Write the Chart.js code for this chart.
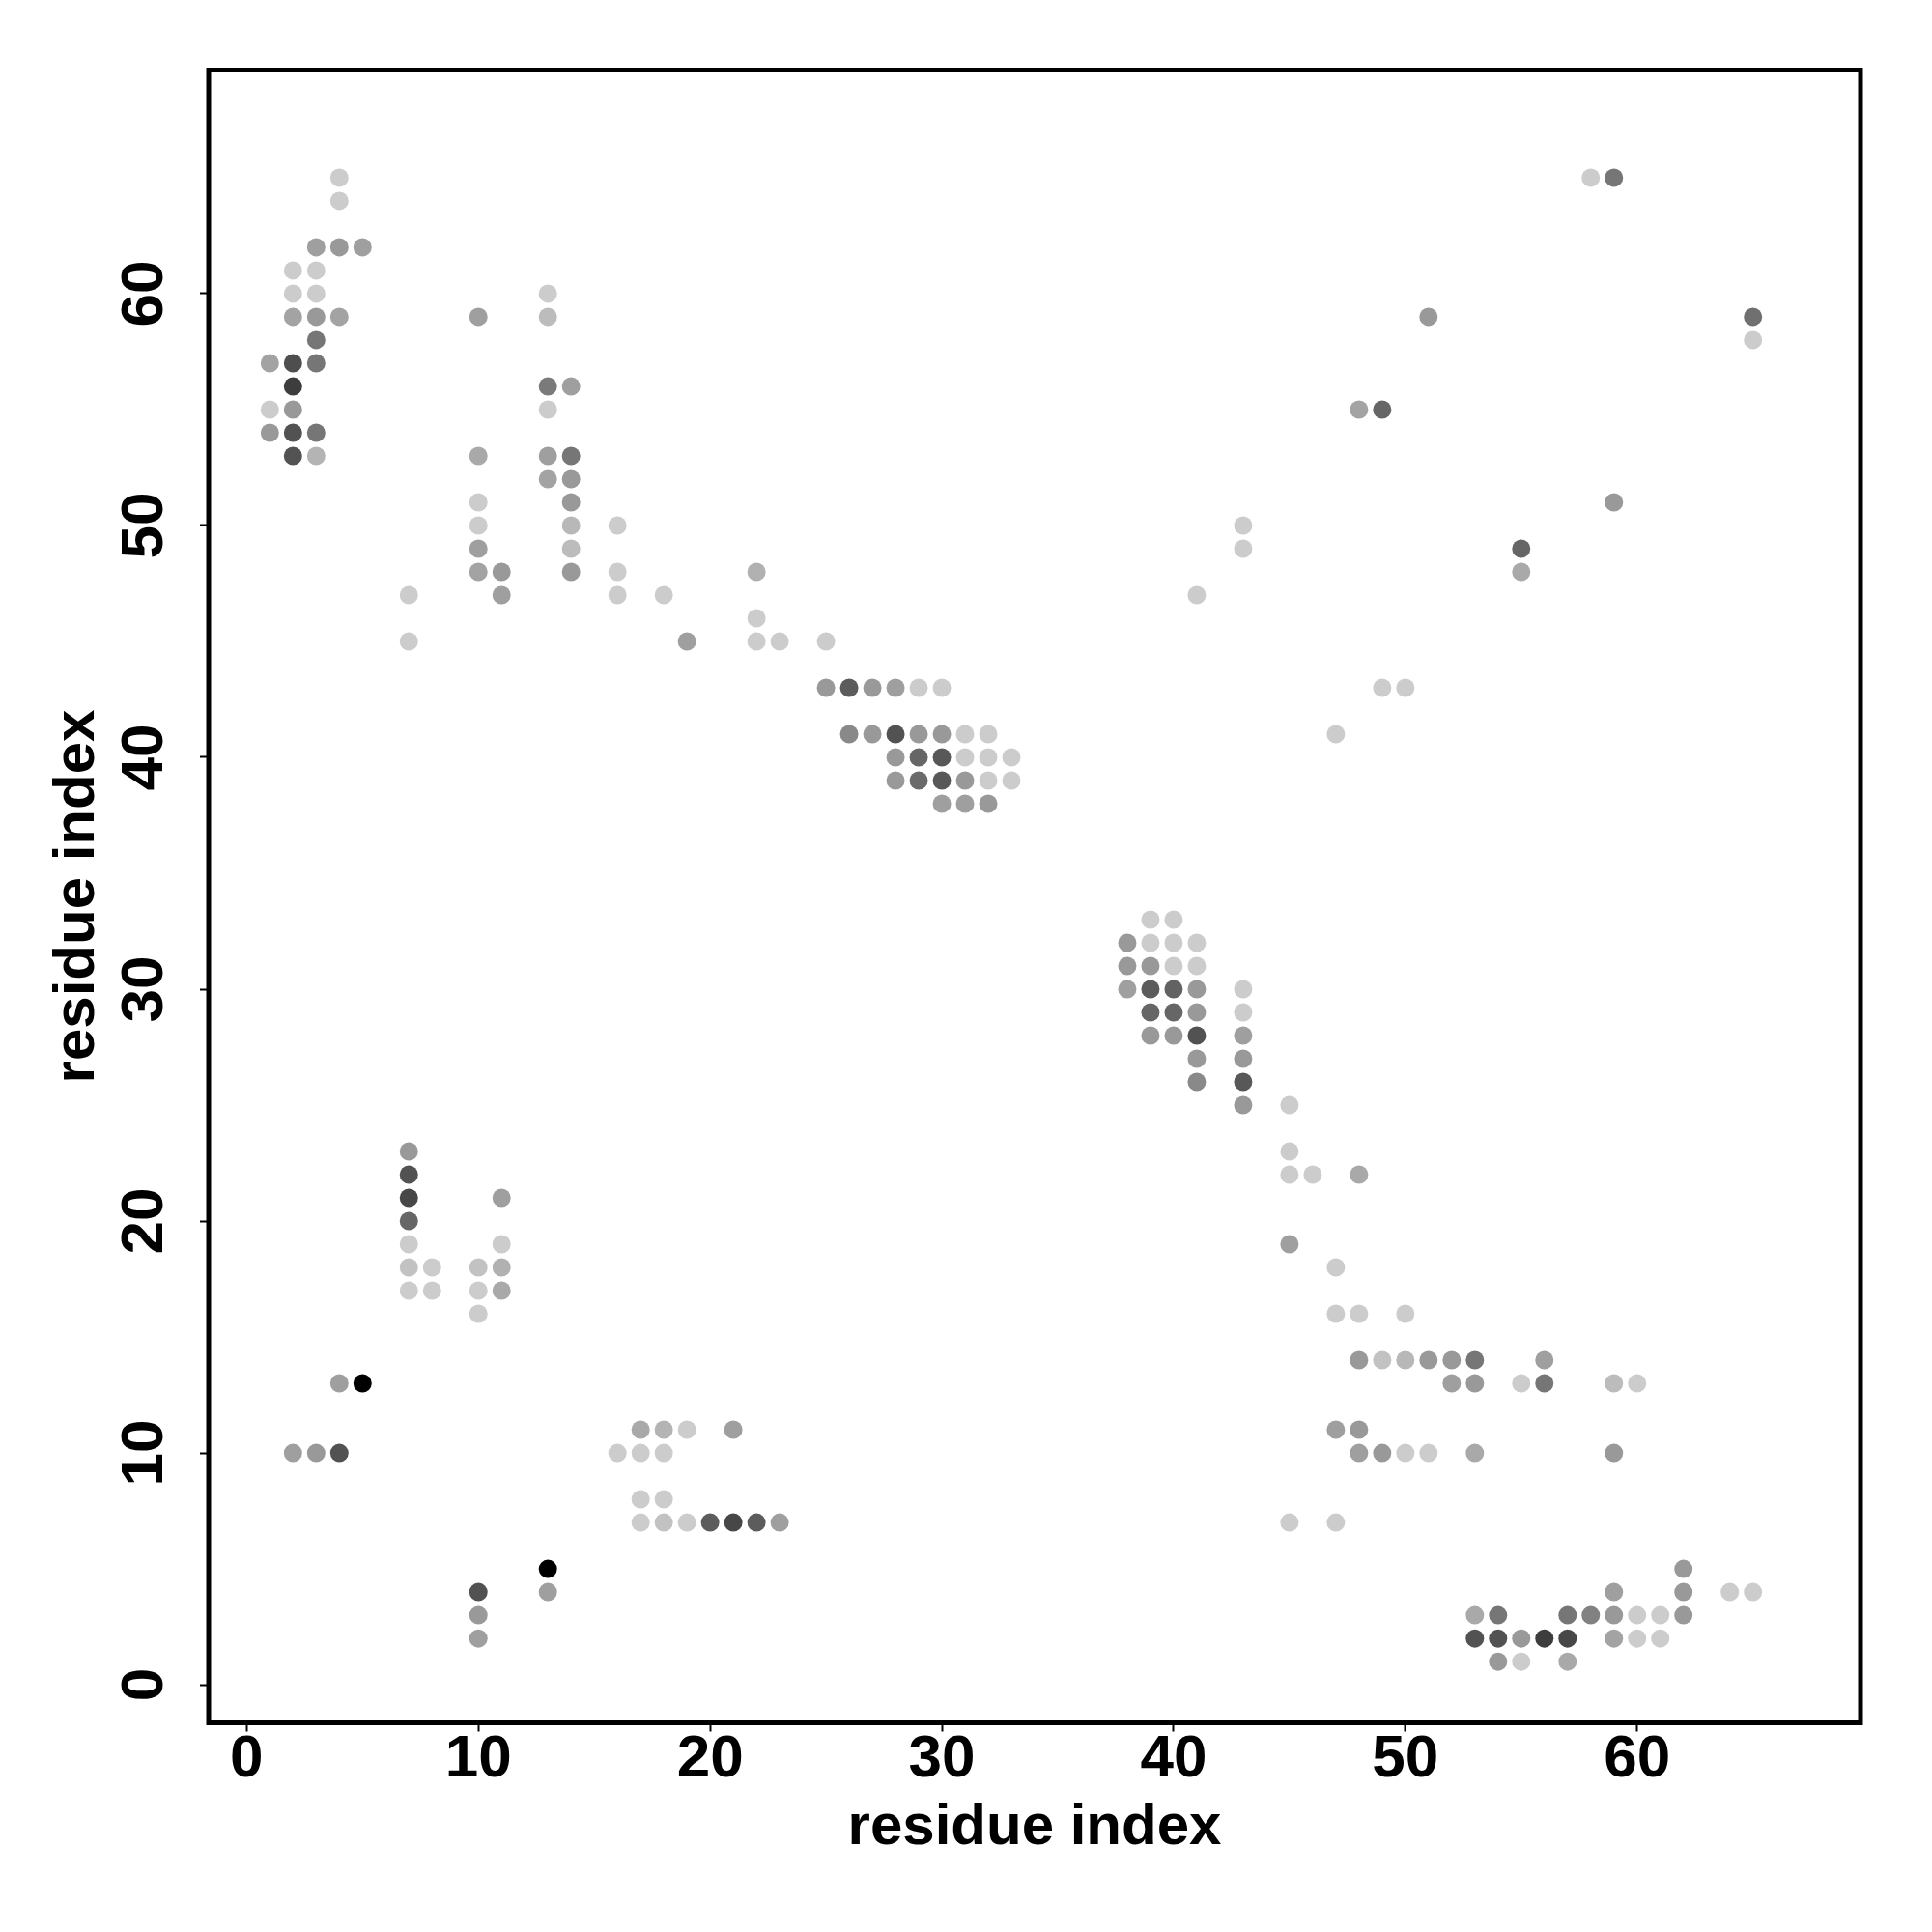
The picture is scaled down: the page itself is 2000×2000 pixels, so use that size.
<!DOCTYPE html>
<html lang="en">
<head>
    <meta charset="UTF-8">
    <title>Residue contact map</title>
    <script src="https://cdn.jsdelivr.net/npm/chart.js"></script>
    <style>
        body {
            margin: 0;
            background: #fff;
        }
        #wrap {
            width: 2000px;
            height: 2000px;
        }
    </style>
</head>
<body>
    <div id="wrap">
        <canvas id="contacts" width="2000" height="2000"></canvas>
    </div>

    <script>
        // residue i (x), residue j (y), contact strength 0 (light) .. 1 (black)
        const resI = [
            4,4,3,4,5,2,3,2,3,13,2,3,4,10,13,3,1,2,3,2,13,14,1,2,13,1,2,3,2,3,10,13,14,
            13,14,10,14,10,14,16,10,14,10,11,14,16,22,7,11,16,18,41,22,7,19,22,23,25,
            58,59,51,65,65,48,49,59,43,43,55,55,49,50,47,
            25,26,27,28,29,30,26,27,28,29,30,31,32,28,29,30,31,32,33,28,29,30,31,32,33,30,31,32,
            39,40,38,39,40,41,38,39,40,41,38,39,40,41,43,39,40,41,43,39,40,41,43,41,43,41,43,43,45,
            45,45,46,48,45,47,47,48,50,48,49,50,51,52,53,56,52,53,55,56,59,60,47,48,48,49,50,51,53,59,45,47,62,59,62,64,65,53,54,57,58,59,60,61,62,53,54,55,56,57,59,60,61,54,55,57,
            7,7,7,11,7,7,11,7,8,10,11,7,8,10,11,10,4,5,17,18,19,21,2,3,4,16,17,18,17,18,17,18,19,20,21,22,23,13,10,13,10,10
        ];
        const resJ = [
            65,64,62,62,62,61,61,60,60,60,59,59,59,59,59,58,57,57,57,56,56,56,55,55,55,54,54,54,53,53,53,53,53,
            52,52,51,51,50,50,50,49,49,48,48,48,48,48,47,47,47,47,47,46,45,45,45,45,45,
            65,65,59,59,58,55,55,51,50,49,49,48,43,43,41,
            43,43,43,43,43,43,41,41,41,41,41,41,41,40,40,40,40,40,40,39,39,39,39,39,39,38,38,38,
            33,33,32,32,32,32,31,31,31,31,30,30,30,30,30,29,29,29,29,28,28,28,28,27,27,26,26,25,25,
            23,22,22,22,19,18,16,16,16,14,14,14,14,14,14,14,13,13,13,13,13,13,11,11,10,10,10,10,10,10,7,7,5,4,4,4,4,3,3,3,3,3,3,3,3,2,2,2,2,2,2,2,2,1,1,1,
            23,22,21,21,20,19,19,18,18,18,18,17,17,17,17,16,13,13,11,11,11,11,10,10,10,10,10,10,8,8,7,7,7,7,7,7,7,5,4,4,3,2
        ];
        const strength = [
            0,0,.22,.25,.22,0,0,0,0,0,.2,.25,.2,.22,.08,.42,.2,.62,.42,.7,.4,.22,0,.25,0,.25,.6,.42,.6,.12,.17,.22,.42,
            .2,.25,0,.25,0,.1,0,.22,.08,.2,.25,.25,0,.13,0,.22,0,0,0,0,0,.22,0,0,0,
            0,.42,.25,.45,0,.2,.5,.25,0,0,.5,.17,0,0,0,
            .25,.55,.25,.22,0,0,.33,.25,.6,.25,.25,0,0,.25,.5,.57,0,0,0,.25,.48,.57,.25,0,0,.22,.22,.25,
            0,0,.25,0,0,0,.25,.25,0,0,.22,.55,.52,.25,0,.5,.5,.25,0,.25,.25,.6,.22,.25,.25,.33,.57,.25,0,
            0,0,0,.17,.22,0,0,0,0,.25,.05,.1,.25,.25,.42,.22,.22,.25,0,.42,.08,0,.22,.25,.22,.25,0,0,.17,.25,0,0,.25,.22,.25,0,0,.17,.42,.42,.37,.25,0,0,.25,.6,.6,.25,.7,.65,.2,0,0,.25,0,.17,
            .25,.6,.65,.22,.5,0,0,.05,0,.05,.13,0,0,0,.17,0,.22,1,.17,.12,0,.22,.22,.25,.6,0,0,0,0,0,0,.05,0,.55,.65,.55,.22,1,.6,.22,.25,.22
        ];
        const tickValues = [0, 10, 20, 30, 40, 50, 60];
        const axisTitle = 'residue index';

        const points = resI.map(function(x, k) {
            return { x: x, y: resJ[k] };
        });
        const colors = strength.map(function(s) {
            const g = Math.round(204 * (1 - s));
            return 'rgb(' + g + ',' + g + ',' + g + ')';
        });

        // box round the plot area, like R's box()
        const framePlugin = {
            id: 'frame',
            afterDraw: function(chart) {
                const a = chart.chartArea;
                const ctx = chart.ctx;
                ctx.save();
                ctx.lineWidth = 5;
                ctx.strokeStyle = '#000';
                ctx.strokeRect(a.left, a.top, a.right - a.left, a.bottom - a.top);
                ctx.restore();
            }
        };

        const tickFont = { family: '"Liberation Sans", Arial, sans-serif', size: 62, weight: 'bold' };
        const titleFont = { family: '"Liberation Sans", Arial, sans-serif', size: 60, weight: 'bold' };

        function fixedTicks(scale) {
            scale.ticks = tickValues.map(function(v) { return { value: v }; });
        }

        new Chart(document.getElementById('contacts').getContext('2d'), {
            type: 'scatter',
            data: {
                datasets: [{
                    data: points,
                    backgroundColor: colors,
                    borderWidth: 0,
                    pointRadius: 9.5,
                    pointHoverRadius: 9.5
                }]
            },
            options: {
                responsive: false,
                animation: false,
                devicePixelRatio: 1,
                layout: {
                    padding: { top: 72.5, right: 74, bottom: 0, left: 0 }
                },
                plugins: {
                    legend: { display: false },
                    tooltip: { enabled: false }
                },
                scales: {
                    x: {
                        type: 'linear',
                        min: -1.64,
                        max: 69.64,
                        afterBuildTicks: fixedTicks,
                        afterFit: function(scale) { scale.height = 216.5; },
                        grid: {
                            drawOnChartArea: false,
                            drawTicks: true,
                            tickLength: 9,
                            tickWidth: 2,
                            tickColor: '#000'
                        },
                        border: { display: false },
                        ticks: {
                            font: tickFont,
                            color: '#000',
                            padding: -8,
                            autoSkip: false,
                            maxRotation: 0
                        },
                        title: {
                            display: true,
                            text: axisTitle,
                            font: titleFont,
                            color: '#000',
                            padding: { top: 0, bottom: 72 }
                        }
                    },
                    y: {
                        type: 'linear',
                        min: -1.64,
                        max: 69.64,
                        afterBuildTicks: fixedTicks,
                        afterFit: function(scale) { scale.width = 216; },
                        grid: {
                            drawOnChartArea: false,
                            drawTicks: true,
                            tickLength: 9,
                            tickWidth: 2,
                            tickColor: '#000'
                        },
                        border: { display: false },
                        ticks: {
                            font: tickFont,
                            color: '#000',
                            padding: 22,
                            autoSkip: false,
                            minRotation: 90,
                            maxRotation: 90,
                            crossAlign: 'center'
                        },
                        title: {
                            display: true,
                            text: axisTitle,
                            font: titleFont,
                            color: '#000',
                            padding: { top: 44.5, bottom: 0 }
                        }
                    }
                }
            },
            plugins: [framePlugin]
        });
    </script>
</body>
</html>
